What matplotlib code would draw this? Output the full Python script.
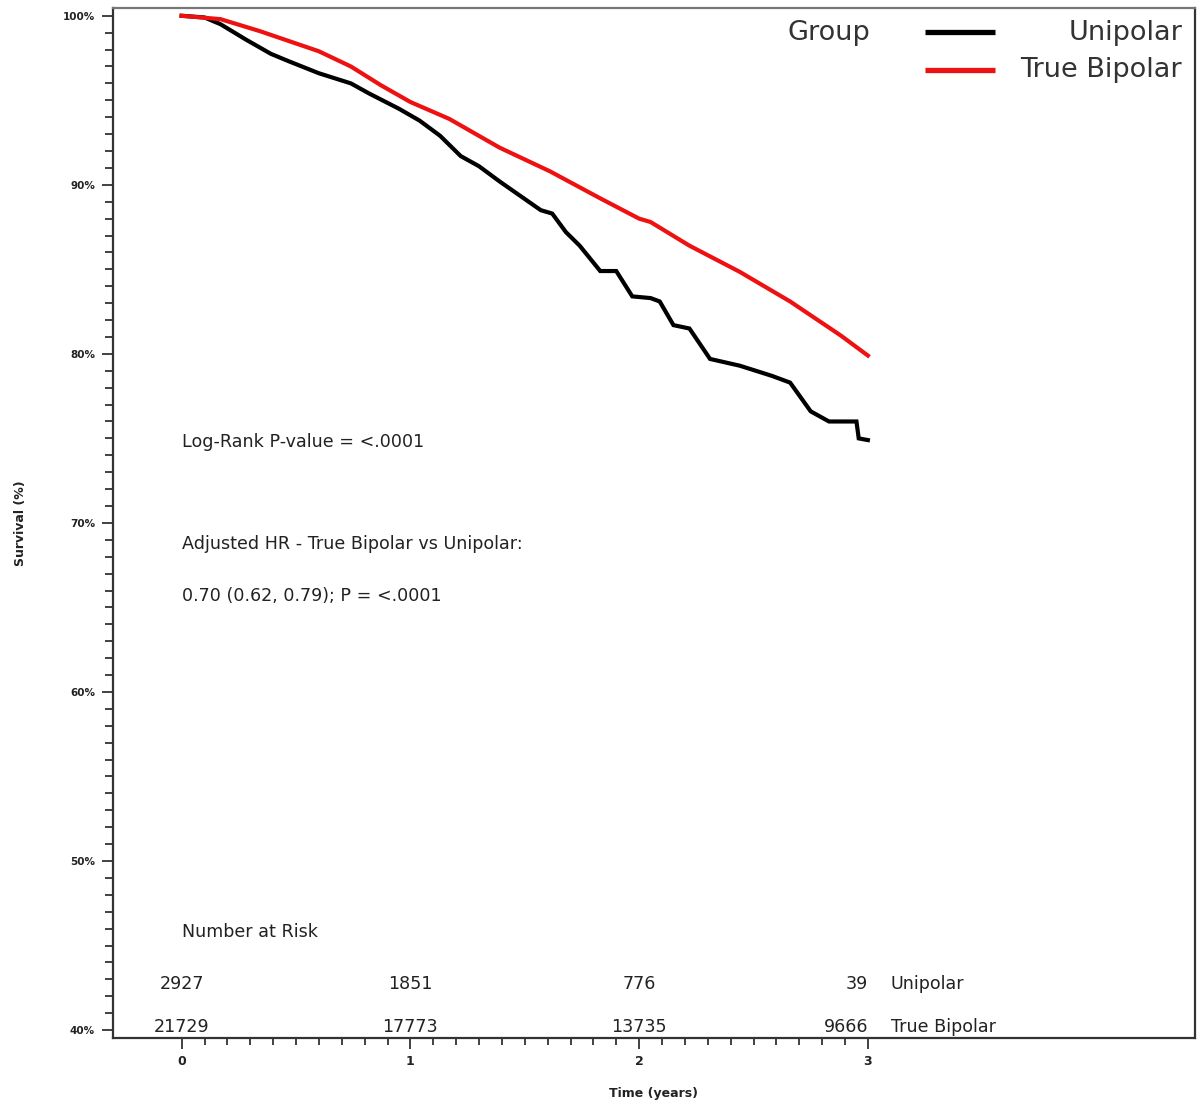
import matplotlib
matplotlib.use("Agg")
import matplotlib.pyplot as plt
from matplotlib.ticker import MultipleLocator, FuncFormatter

plt.rcParams['font.family'] = ['DejaVu Sans']

# ---- data ----
uni_t = [0.00, 0.10, 0.17, 0.28, 0.39, 0.47, 0.60, 0.74, 0.82, 0.95, 1.04, 1.13,
         1.22, 1.30, 1.39, 1.48, 1.57, 1.62, 1.68, 1.74, 1.83, 1.90, 1.97, 2.05,
         2.09, 2.15, 2.22, 2.31, 2.44, 2.58, 2.66, 2.75, 2.83, 2.95, 2.96, 3.00]
uni_s = [100.0, 99.9, 99.5, 98.6, 97.75, 97.3, 96.6, 96.0, 95.4, 94.5, 93.8, 92.9,
         91.7, 91.1, 90.2, 89.35, 88.5, 88.3, 87.2, 86.4, 84.9, 84.9, 83.4, 83.3,
         83.1, 81.7, 81.5, 79.7, 79.3, 78.7, 78.3, 76.6, 76.0, 76.0, 75.0, 74.9]

bip_t = [0.00, 0.17, 0.34, 0.47, 0.60, 0.74, 0.87, 1.00, 1.17, 1.39, 1.61, 1.83,
         2.00, 2.05, 2.22, 2.44, 2.66, 2.88, 3.00]
bip_s = [100.0, 99.8, 99.1, 98.5, 97.9, 97.0, 95.9, 94.9, 93.9, 92.2, 90.8, 89.2,
         88.0, 87.8, 86.4, 84.85, 83.1, 81.1, 79.9]

risk_times = [0, 1, 2, 3]
risk_uni = ["2927", "1851", "776", "39"]
risk_bip = ["21729", "17773", "13735", "9666"]
group_labels = ["Unipolar", "True Bipolar"]
y_ticks = [40, 50, 60, 70, 80, 90, 100]
x_ticks = [0, 1, 2, 3]

stats_lines = ["Log-Rank P-value = <.0001",
               "Adjusted HR - True Bipolar vs Unipolar:",
               "0.70 (0.62, 0.79); P = <.0001"]

# ---- figure ----
W, H = 1197, 1106
fig = plt.figure(figsize=(W / 100, H / 100), dpi=100)
ax = fig.add_axes([113 / W, 1 - 1038 / H, (1195 - 113) / W, (1038 - 8) / H])

ax.plot(uni_t, uni_s, color='black', lw=3.0, solid_joinstyle='miter', zorder=3)
ax.plot(bip_t, bip_s, color='#ee1111', lw=3.0, zorder=3)

ax.set_xlim(-0.30, 4.43)
ax.set_ylim(39.53, 100.46)

ax.set_yticks(y_ticks)
ax.yaxis.set_minor_locator(MultipleLocator(1))
ax.yaxis.set_major_formatter(FuncFormatter(lambda v, p: f"{int(v)}%"))
ax.set_xticks(x_ticks)
ax.set_xticks([i / 10 for i in range(0, 31)], minor=True)

spine_col = '#333333'
for s in ax.spines.values():
    s.set_color(spine_col)
    s.set_linewidth(1.6)
ax.spines['top'].set_color('#777777')

ax.tick_params(axis='y', which='major', length=8, width=1.3, color=spine_col,
               labelsize=7.5, pad=5)
ax.tick_params(axis='y', which='minor', length=6, width=1.3, color=spine_col)
ax.tick_params(axis='x', which='major', length=8, width=1.3, color=spine_col,
               labelsize=9, pad=4)
ax.tick_params(axis='x', which='minor', length=5, width=1.3, color=spine_col)
for lab in ax.get_xticklabels() + ax.get_yticklabels():
    lab.set_fontweight('bold')
    lab.set_color('#222222')

ax.set_xlabel("Time (years)", fontsize=9, labelpad=14, fontweight='bold', color='#222222')
ax.set_ylabel("Survival (%)", fontsize=9, labelpad=26, fontweight='bold', color='#222222')

# statistics text
txt_col = '#222222'
fs = 12.6
ax.text(0, 74.8, stats_lines[0], fontsize=fs, color=txt_col, va='center', ha='left')
ax.text(0, 68.75, stats_lines[1], fontsize=fs, color=txt_col, va='center', ha='left')
ax.text(0, 65.7, stats_lines[2], fontsize=fs, color=txt_col, va='center', ha='left')

# number at risk
ax.text(0, 45.8, "Number at Risk", fontsize=fs, color=txt_col, va='center', ha='left')
for t, u, b in zip(risk_times, risk_uni, risk_bip):
    ha = 'right' if t == risk_times[-1] else 'center'
    ax.text(t, 42.7, u, fontsize=fs, color=txt_col, va='center', ha=ha)
    ax.text(t, 40.2, b, fontsize=fs, color=txt_col, va='center', ha=ha)
ax.text(3.10, 42.7, group_labels[0], fontsize=fs, color=txt_col, va='center', ha='left')
ax.text(3.10, 40.2, group_labels[1], fontsize=fs, color=txt_col, va='center', ha='left')

# legend (manual layout)
leg_col = '#333333'
ax.text(0.6996, 0.9757, "Group", transform=ax.transAxes, fontsize=19.5,
        color=leg_col, ha='right', va='center')
ax.plot([0.7505, 0.8152], [0.9767, 0.9767], transform=ax.transAxes,
        color='black', lw=3.8, solid_capstyle='butt')
ax.plot([0.7505, 0.8152], [0.9398, 0.9398], transform=ax.transAxes,
        color='#ee1111', lw=3.8, solid_capstyle='butt')
ax.text(0.988, 0.9757, group_labels[0], transform=ax.transAxes, fontsize=19.5,
        color=leg_col, ha='right', va='center')
ax.text(0.988, 0.9398, group_labels[1], transform=ax.transAxes, fontsize=19.5,
        color=leg_col, ha='right', va='center')

fig.savefig("out.png", dpi=100)
